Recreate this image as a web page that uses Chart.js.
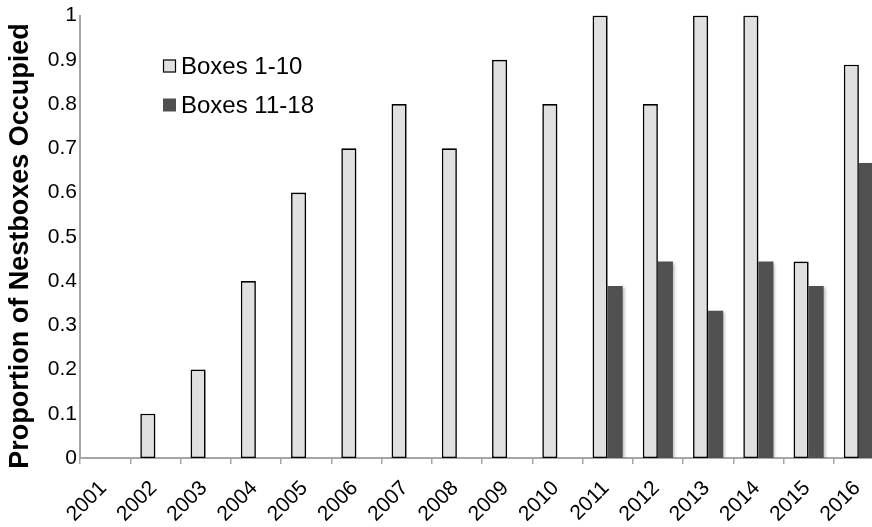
<!DOCTYPE html>
<html>
<head>
<meta charset="utf-8">
<script src="https://cdn.jsdelivr.net/npm/chart.js@4.4.1/dist/chart.umd.min.js"></script>
<style>
  html, body { margin: 0; padding: 0; background: #ffffff; overflow: hidden; }
  #wrap { width: 872px; height: 527px; overflow: hidden; position: relative; }
  canvas { display: block; }
</style>
</head>
<body>
<div id="wrap"><canvas id="chart" width="884" height="527"></canvas></div>
<script>
// Nestbox occupancy by year
const years = ['2001','2002','2003','2004','2005','2006','2007','2008',
               '2009','2010','2011','2012','2013','2014','2015','2016'];
const boxes1to10 = [0, 0.1, 0.2, 0.4, 0.6, 0.7, 0.8, 0.7, 0.9, 0.8, 1, 0.8, 1, 1, 0.444, 0.889];
const boxes11to18 = [null, null, null, null, null, null, null, null, null, null,
                     0.389, 0.444, 0.333, 0.444, 0.389, 0.667];
const yTicks = [0, 0.1, 0.2, 0.3, 0.4, 0.5, 0.6, 0.7, 0.8, 0.9, 1];
const seriesNames = ['Boxes 1-10', 'Boxes 11-18'];
const yTitle = 'Proportion of Nestboxes Occupied';

const FONT = '"Liberation Sans", Arial, Helvetica, sans-serif';

// soft drop shadow behind the bars
const barShadow = {
  id: 'barShadow',
  beforeDatasetsDraw(chart) {
    const ctx = chart.ctx;
    ctx.save();
    ctx.shadowColor = 'rgba(0,0,0,0.28)';
    ctx.shadowBlur = 3;
    ctx.shadowOffsetX = 2;
    ctx.shadowOffsetY = 1;
  },
  afterDatasetsDraw(chart) {
    chart.ctx.restore();
  }
};

// year labels slanted at 45 degrees, ending at each category centre
const slantedYears = {
  id: 'slantedYears',
  afterDraw(chart) {
    const ctx = chart.ctx;
    const xs = chart.scales.x;
    ctx.save();
    ctx.fillStyle = '#000000';
    ctx.font = '21px ' + FONT;
    ctx.textAlign = 'right';
    ctx.textBaseline = 'alphabetic';
    chart.data.labels.forEach((lab, i) => {
      const px = xs.getPixelForValue(i);
      ctx.save();
      ctx.translate(px + 2.5, xs.top + 31);
      ctx.rotate(-Math.PI / 4);
      ctx.fillText(lab, 0, 0);
      ctx.restore();
    });
    ctx.restore();
  }
};

// vertical axis title
const yAxisTitle = {
  id: 'yAxisTitle',
  afterDraw(chart) {
    const ctx = chart.ctx;
    ctx.save();
    ctx.translate(28, 246);
    ctx.rotate(-Math.PI / 2);
    ctx.fillStyle = '#000000';
    ctx.font = 'bold 27px ' + FONT;
    ctx.textAlign = 'center';
    ctx.textBaseline = 'alphabetic';
    ctx.fillText(yTitle, 0, 0);
    ctx.restore();
  }
};

// legend drawn inside the plot area, upper left
const insideLegend = {
  id: 'insideLegend',
  afterDraw(chart) {
    const ctx = chart.ctx;
    const x0 = chart.chartArea.left + 83;
    const rows = [66, 105];
    ctx.save();
    chart.data.datasets.forEach((ds, i) => {
      const cy = rows[i];
      ctx.fillStyle = ds.backgroundColor;
      ctx.fillRect(x0, cy - 6.5, 13, 13);
      if (ds.borderWidth) {
        ctx.strokeStyle = ds.borderColor;
        ctx.lineWidth = 1.2;
        ctx.strokeRect(x0 + 0.5, cy - 6, 12, 12);
      }
      ctx.fillStyle = '#000000';
      ctx.font = '24px ' + FONT;
      ctx.textBaseline = 'middle';
      ctx.textAlign = 'left';
      ctx.fillText(ds.label, x0 + 18, cy + 1);
    });
    ctx.restore();
  }
};

new Chart(document.getElementById('chart'), {
  type: 'bar',
  data: {
    labels: years,
    datasets: [
      {
        label: seriesNames[0],
        data: boxes1to10,
        backgroundColor: '#e0e0e0',
        borderColor: '#000000',
        borderWidth: 1.6,
        borderSkipped: false
      },
      {
        label: seriesNames[1],
        data: boxes11to18,
        backgroundColor: '#505050',
        borderWidth: 0
      }
    ]
  },
  options: {
    responsive: false,
    animation: false,
    devicePixelRatio: 1,
    layout: { padding: { top: 15, right: 0, left: 0, bottom: 0 } },
    datasets: { bar: { categoryPercentage: 0.6, barPercentage: 1.0 } },
    plugins: {
      legend: { display: false },
      tooltip: { enabled: false }
    },
    scales: {
      x: {
        grid: {
          display: true,
          offset: true,
          drawOnChartArea: false,
          drawTicks: true,
          tickLength: 6,
          color: '#a6a6a6',
          lineWidth: 1.5
        },
        border: { display: true, color: '#a6a6a6', width: 2 },
        ticks: { display: false },
        afterFit(scale) { scale.height = 69; }
      },
      y: {
        min: 0,
        max: 1,
        afterBuildTicks(scale) { scale.ticks = yTicks.map(v => ({ value: v })); },
        grid: { display: false, drawTicks: false },
        border: { display: true, color: '#a6a6a6', width: 2 },
        ticks: {
          color: '#000000',
          font: { family: FONT, size: 21 },
          padding: 3,
          callback: v => String(Math.round(v * 10) / 10)
        },
        title: { display: false },
        afterFit(scale) { scale.width = 80; }
      }
    }
  },
  plugins: [barShadow, slantedYears, yAxisTitle, insideLegend]
});
</script>
</body>
</html>
